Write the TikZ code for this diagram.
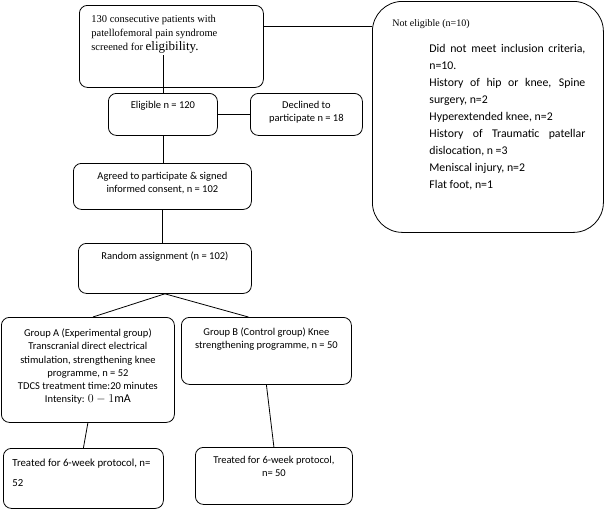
\documentclass[tikz,border=0pt]{standalone}
\usepackage{fontspec}
\setmainfont{Carlito}
\newfontfamily\tnr{Liberation Serif}
\newcommand\bt[5]{\parbox[c][#2][t]{#1}{#4\rule{0pt}{#3}#5}}
\newcommand\msz{\fontsize{10.5}{13}\selectfont}
\begin{document}
\begin{tikzpicture}[x=1pt,y=-1pt,
  box/.style={draw, line width=0.8pt, rounded corners=8pt, inner sep=0pt, anchor=north west},
  conn/.style={line width=0.8pt}]
\useasboundingbox (0,0) rectangle (605,509);
\node[box, minimum width=184pt, minimum height=82pt] (screen) at (79,5)
  {\bt{184pt}{82pt}{17pt}{\raggedright\leftskip=12pt\tnr\fontsize{10.5}{14}\selectfont}{130 consecutive patients with\\patellofemoral pain syndrome\\screened for {\fontsize{13}{14}\selectfont eligibility.}}};
\node[box, rounded corners=30pt, minimum width=231pt, minimum height=231pt] (noteligible) at (372,1)
  {\bt{231pt}{231pt}{25pt}{\raggedright\leftskip=20pt}{{\tnr\fontsize{10}{12}\selectfont Not eligible (n=10)}\par
   \vspace*{9pt}{\leftskip=57pt\rightskip=18pt\parfillskip=0pt plus 1fil\fontsize{11.8}{17}\selectfont
   Did not meet inclusion criteria,\linebreak n=10.\par
   History of hip or knee, Spine\linebreak surgery, n=2\par
   Hyperextended knee, n=2\par
   History of Traumatic patellar\linebreak dislocation, n =3\par
   Meniscal injury, n=2\par
   Flat foot, n=1\par}}};
\node[box, minimum width=109pt, minimum height=42pt] (eligible) at (108,93)
  {\bt{109pt}{42pt}{15pt}{\centering\msz}{Eligible n = 120}};
\node[box, minimum width=112pt, minimum height=42pt] (declined) at (250,93)
  {\bt{112pt}{42pt}{15pt}{\centering\msz}{Declined to\\participate n = 18}};
\node[box, minimum width=178pt, minimum height=46pt] (agreed) at (73,163)
  {\bt{178pt}{46pt}{16pt}{\centering\msz}{Agreed to participate \& signed\\informed consent, n = 102}};
\node[box, minimum width=173pt, minimum height=50pt] (random) at (78,243)
  {\bt{173pt}{50pt}{16pt}{\centering\msz}{Random assignment (n = 102)}};
\node[box, minimum width=173pt, minimum height=105pt] (groupA) at (1,317)
  {\bt{173pt}{105pt}{19pt}{\centering\fontsize{10.5}{13.3}\selectfont}{Group A (Experimental group)\\Transcranial direct electrical\\stimulation, strengthening knee\\programme, n = 52\\TDCS treatment time:20 minutes\\Intensity: {\fontsize{12}{13.3}\selectfont$0-1\mathrm{mA}$}}};
\node[box, minimum width=170pt, minimum height=67pt] (groupB) at (181,317)
  {\bt{170pt}{67pt}{18pt}{\centering\msz}{Group B (Control group) Knee\\strengthening programme, n = 50}};
\node[box, minimum width=160pt, minimum height=60pt] (treatedA) at (3,448)
  {\bt{160pt}{60pt}{18pt}{\raggedright\leftskip=9pt\fontsize{10.8}{20}\selectfont}{Treated for 6-week protocol, n=\\52}};
\node[box, minimum width=157pt, minimum height=57pt] (treatedB) at (195,447)
  {\bt{157pt}{57pt}{16pt}{\centering\msz}{Treated for 6-week protocol,\\n= 50}};
\draw[conn] (screen.east |- 0,26) -- (noteligible.west |- 0,26);
\draw[conn] (eligible.north |- 0,55) -- (eligible.north);
\draw[conn] (eligible.east) -- (declined.west);
\draw[conn] (eligible.south) -- (eligible.south |- agreed.north);
\draw[conn] (agreed.south) -- (agreed.south |- random.north);
\draw[conn] (random.south) -- ([xshift=5pt]groupA.north);
\draw[conn] (random.south) -- ([xshift=-18pt]groupB.north);
\draw[conn] (groupA.south) -- (treatedA.north);
\draw[conn] (groupB.south) -- (treatedB.north);
\end{tikzpicture}
\end{document}
